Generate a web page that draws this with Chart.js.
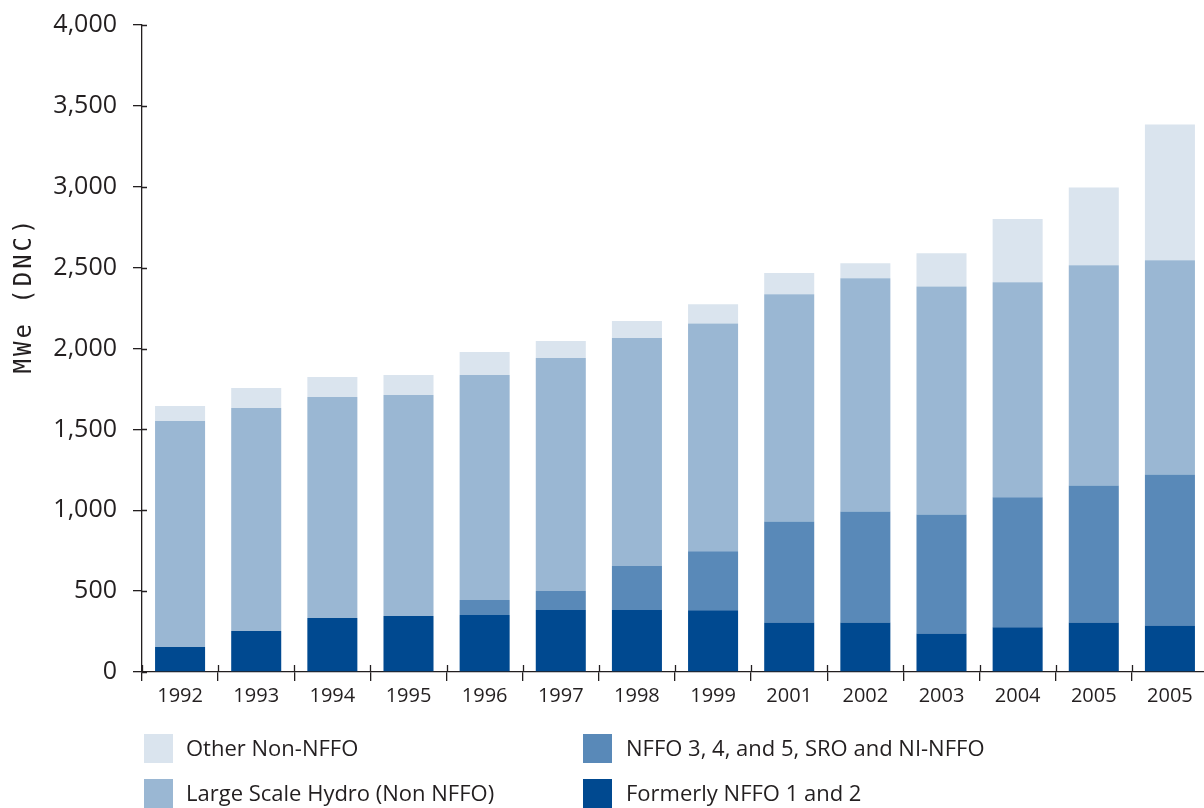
<!DOCTYPE html>
<html>
<head>
<meta charset="utf-8">
<script src="https://cdn.jsdelivr.net/npm/chart.js@4"></script>
<style>
html,body{margin:0;padding:0;background:#fff;overflow:hidden;width:1204px;height:808px;}
#wrap{position:absolute;left:0;top:0;width:1208px;height:720px;}
#legend{position:absolute;left:0;top:0;width:1204px;height:808px;font-family:'Open Sans',sans-serif;font-size:22px;color:#231f20;}
.item{position:absolute;height:29px;white-space:nowrap;}
.sw{position:absolute;left:0;top:0;width:29px;height:29px;}
.tx{position:absolute;top:-2px;line-height:30px;}
</style>
</head>
<body>
<div id="wrap"><canvas id="c" width="1208" height="720"></canvas></div>
<div id="legend"></div>
<script>
// ---- data ----
const categories = ['1992','1993','1994','1995','1996','1997','1998','1999','2001','2002','2003','2004','2005','2005'];
const formerlyNFFO12 = [155,253,334,346,352,383,383,382,306,306,238,277,306,288];
const nffo345SroNi   = [0,0,0,0,93,118,272,364,625,687,736,803,847,933];
const largeHydro     = [1397,1379,1366,1366,1391,1440,1410,1409,1404,1441,1409,1329,1361,1325];
const otherNonNFFO   = [92,124,124,124,142,105,105,119,131,93,206,391,482,839];
const seriesNames = ['Formerly NFFO 1 and 2','NFFO 3, 4, and 5, SRO and NI-NFFO','Large Scale Hydro (Non NFFO)','Other Non-NFFO'];
const yTicksMin = 0, yTicksMax = 4000, yTickStep = 500;
const yTitle = 'MWe (DNC)';

const COLORS = ['#004990','#5989b8','#9ab7d3','#dae4ee'];
const AXIS = '#231f20';
const TEXT = '#231f20';

const tickCross = {
  id:'tickCross',
  afterDraw(chart){
    const {ctx} = chart;
    const x = chart.scales.x, y = chart.scales.y;
    ctx.save();
    ctx.strokeStyle = AXIS; ctx.lineWidth = 1.3;
    ctx.beginPath();
    const n = x.ticks.length;
    const w = x.width / n;
    for (let i = 0; i <= n; i++) {
      const px = Math.round(x.left + i * w) + 0.5;
      ctx.moveTo(px, x.top - 7); ctx.lineTo(px, x.top);
    }
    y.ticks.forEach((t, i) => {
      const py = Math.round(y.getPixelForTick(i)) + 0.5;
      ctx.moveTo(y.right, py); ctx.lineTo(y.right + 5, py);
    });
    ctx.stroke();
    ctx.translate(25, 295);
    ctx.rotate(-Math.PI / 2);
    ctx.font = "24px 'DejaVu Sans Mono','Liberation Mono',monospace";
    if ('letterSpacing' in ctx) ctx.letterSpacing = '3px';
    ctx.fillStyle = TEXT;
    ctx.textAlign = 'center';
    ctx.textBaseline = 'middle';
    ctx.fillText(yTitle, 0, 0);
    ctx.restore();
  }
};

const seriesData = [formerlyNFFO12, nffo345SroNi, largeHydro, otherNonNFFO];
const chart = new Chart(document.getElementById('c'), {
  type: 'bar',
  data: {
    labels: categories,
    datasets: seriesData.map((d, i) => ({
      label: seriesNames[i],
      data: d,
      backgroundColor: COLORS[i],
      borderWidth: 0,
      barPercentage: 0.657,
      categoryPercentage: 1.0
    }))
  },
  options: {
    responsive: false,
    animation: false,
    layout: { padding: { top: 25, left: 0, right: 0, bottom: 0 } },
    plugins: { legend: { display: false }, tooltip: { enabled: false } },
    scales: {
      x: {
        stacked: true,
        grid: { display: true, drawOnChartArea: false, drawTicks: true, tickLength: 9, color: AXIS, lineWidth: 1.3, offset: true },
        border: { display: true, color: AXIS, width: 1.3 },
        ticks: { color: TEXT, font: { family: "'Open Sans', sans-serif", size: 20 }, padding: 3, maxRotation: 0, autoSkip: false },
        afterFit(s) { s.height = 48; s.paddingLeft = 0; s.paddingRight = 0; }
      },
      y: {
        stacked: true,
        min: yTicksMin, max: yTicksMax,
        grid: { display: true, drawOnChartArea: false, drawTicks: true, tickLength: 9, color: AXIS, lineWidth: 1.3 },
        border: { display: true, color: AXIS, width: 1.3 },
        ticks: { stepSize: yTickStep, color: TEXT, font: { family: "'Open Sans', sans-serif", size: 25 }, padding: 16 },
        afterFit(s) { s.width = 142; s.paddingTop = 0; s.paddingBottom = 0; }
      }
    }
  },
  plugins: [tickCross]
});

// HTML legend built from the chart datasets
const legendOrder = [3, 1, 2, 0];
const legendPos = [[144, 734], [583, 734], [144, 779], [583, 779]];
const lg = document.getElementById('legend');
legendOrder.forEach((di, k) => {
  const ds = chart.data.datasets[di];
  const it = document.createElement('div');
  it.className = 'item';
  it.style.left = legendPos[k][0] + 'px';
  it.style.top = legendPos[k][1] + 'px';
  const sw = document.createElement('div');
  sw.className = 'sw'; sw.style.background = ds.backgroundColor;
  const tx = document.createElement('span');
  tx.className = 'tx'; tx.style.left = (legendPos[k][0] === 144 ? 42 : 43) + 'px';
  tx.textContent = ds.label;
  it.appendChild(sw); it.appendChild(tx);
  lg.appendChild(it);
});
</script>
</body>
</html>
